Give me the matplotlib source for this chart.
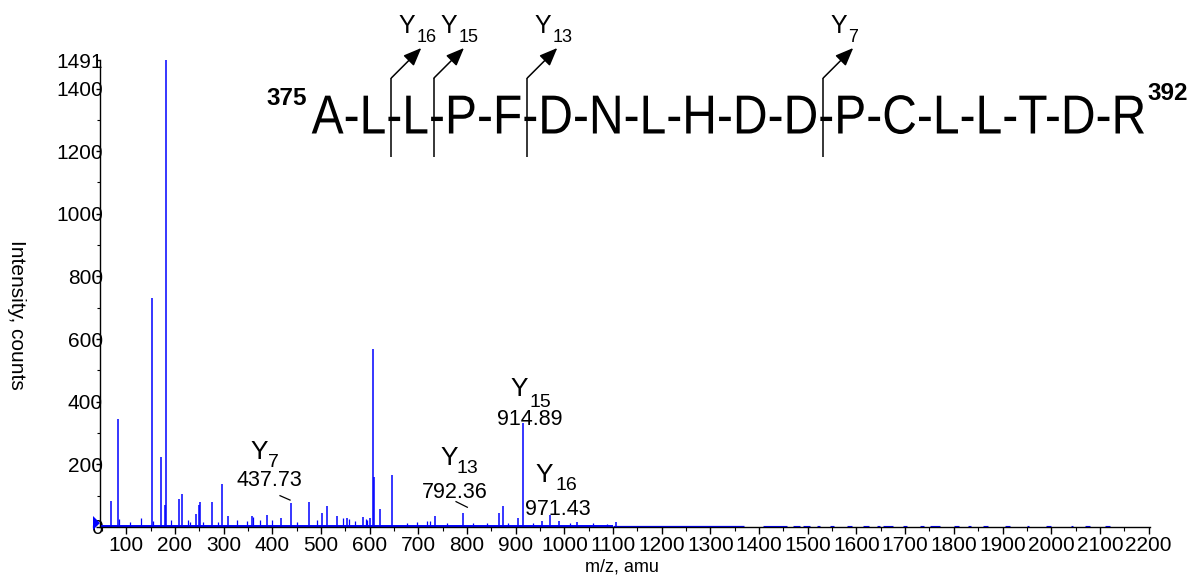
import matplotlib
matplotlib.use("Agg")
import matplotlib.pyplot as plt
from matplotlib.textpath import TextPath
from matplotlib.patches import PathPatch, Polygon
from matplotlib.font_manager import FontProperties
from matplotlib.transforms import Affine2D
from matplotlib.ticker import MultipleLocator

plt.rcParams['font.family'] = ['Liberation Sans', 'DejaVu Sans']

# --- spectrum data ---
peak_mz = [68.0, 83.6, 153.5, 171.3, 180.3, 182.2, 208.3, 214.5, 243.2, 248.8,
           251.5, 276.7, 296.7, 308.4, 358.3, 388.5, 417.3, 437.73, 475.4, 502.8,
           511.8, 533.0, 554.1, 585.8, 600.8, 607.5, 609.0, 620.7, 646.6, 735.0,
           792.36, 865.2, 873.4, 905.5, 914.89, 954.2, 971.43, 989.7, 1025.5, 1106.0]
peak_int = [84, 344, 731, 223, 70, 1491, 88, 104, 41, 69,
            80, 80, 137, 35, 35, 38, 30, 77, 80, 44,
            67, 35, 28, 33, 29, 568, 160, 58, 166, 35,
            44, 44, 67, 29, 331, 20, 38, 20, 16, 15]

small_mz = [85.2, 107.6, 129.6, 155.0, 192.0, 226.0, 231.0, 257.6, 288.0, 326.9,
            347.4, 360.5, 374.7, 398.8, 450.0, 491.2, 546.0, 557.0, 570.0, 592.6,
            595.0, 676.0, 696.7, 717.0, 724.0, 758.0, 813.0, 840.5, 885.0, 936.0,
            1012.0, 1059.6, 1087.0]
small_int = [25, 17, 28, 20, 22, 22, 17, 17, 17, 22,
             20, 33, 22, 22, 17, 22, 28, 24, 20, 24,
             22, 14, 17, 20, 20, 14, 14, 12, 14, 14,
             12, 12, 10]

# noise floor
base_mz = [46, 1100]
base_level = 4
mid_mz = [1100, 1368]
tail_start = [1409, 1470, 1491, 1518, 1546, 1580, 1614, 1642, 1655, 1696, 1731, 1751,
              1800, 1830, 1860, 1905, 1950, 1990, 2040, 2070, 2110]
tail_end = [1457, 1484, 1505, 1525, 1553, 1590, 1625, 1649, 1676, 1704, 1738, 1772,
            1810, 1835, 1870, 1915, 1955, 2000, 2045, 2080, 2120]

# labelled y-ions in the spectrum
ion_sub = ['7', '13', '15', '16']
ion_val = ['437.73', '792.36', '914.89', '971.43']
ylet_mz = [354.2, 744.6, 888.4, 939.8]
ylet_int = [217, 198, 418, 144]
ysub_mz = [391.2, 778.9, 927.5, 980.9]
ysub_int = [192, 172, 383, 118]
num_mz = [394.7, 774.8, 929.5, 987.0]
num_int = [131, 92, 326, 38]
lead_x0 = [415.8, 777.4]
lead_x1 = [436.4, 800.6]
lead_y0 = [100, 81]
lead_y1 = [86, 63]

# peptide
sequence = ['A', 'L', 'L', 'P', 'F', 'D', 'N', 'L', 'H', 'D', 'D',
            'P', 'C', 'L', 'L', 'T', 'D', 'R']
first_res, last_res = '375', '392'
cut_after = [2, 3, 5, 11]

blue = '#0000ff'
W, H = 1203, 579
fig = plt.figure(figsize=(W / 100, H / 100), dpi=100)
ax = fig.add_axes([100 / W, 1 - 527 / H, 1050 / W, 467 / H])

ax.vlines(peak_mz, 0, peak_int, color=blue, lw=1.1)
ax.vlines(small_mz, 0, small_int, color=blue, lw=0.9)
ax.plot(base_mz, [base_level] * len(base_mz), color=blue, lw=1.4,
        solid_capstyle='butt')
ax.plot(mid_mz, [base_level] * len(mid_mz), color=blue, lw=0.9,
        solid_capstyle='butt')
ax.hlines([base_level] * len(tail_start), tail_start, tail_end, color=blue, lw=0.8)

ax.set_xlim(46, 2203)
ax.set_ylim(0, 1491)
for s in ['top', 'right']:
    ax.spines[s].set_visible(False)
for s in ['left', 'bottom']:
    ax.spines[s].set_linewidth(1.0)

ax.set_xticks(range(100, 2201, 100))
ax.xaxis.set_minor_locator(MultipleLocator(50))
ax.set_yticks([0, 200, 400, 600, 800, 1000, 1200, 1400, 1491])
ax.set_yticks(range(100, 1400, 200), minor=True)
ax.tick_params(axis='x', which='major', direction='out', length=5, width=1,
               labelsize=15, pad=1.5)
ax.tick_params(axis='x', which='minor', direction='out', length=3, width=0.8)
ax.tick_params(axis='y', which='major', direction='out', length=3, width=1,
               labelsize=15, pad=-5.2)
ax.tick_params(axis='y', which='minor', direction='out', length=2, width=0.8)

# ion labels on the spectrum
for i in range(len(ion_sub)):
    ax.text(ylet_mz[i], ylet_int[i], 'Y', fontsize=19, va='baseline', ha='left')
    ax.text(ysub_mz[i], ysub_int[i], ion_sub[i], fontsize=14, va='baseline', ha='left')
    ax.text(num_mz[i], num_int[i], ion_val[i], fontsize=15.5, va='baseline',
            ha='center')
for i in range(len(lead_x0)):
    ax.plot([lead_x0[i], lead_x1[i]], [lead_y0[i], lead_y1[i]], color='k', lw=0.9)

fig.text(622 / W, 1 - 567 / H, 'm/z, amu', ha='center', va='center', fontsize=13)
fig.text(16 / W, 1 - 315 / H, 'Intensity, counts', ha='center', va='center',
         rotation=270, fontsize=15)

# overlay in pixel coordinates for the peptide scheme
ov = fig.add_axes([0, 0, 1, 1])
ov.set_xlim(0, W)
ov.set_ylim(H, 0)
ov.axis('off')
ov.patch.set_alpha(0)

ov.add_patch(Polygon([[93, 516], [93, 530], [100, 523]], closed=True,
                     color=blue, lw=0))

fp = FontProperties(family='Liberation Sans')
em = 55
seq_str = '-'.join(sequence)
tp = TextPath((0, 0), seq_str, size=em, prop=fp)
ext = tp.get_extents()
seq_left, seq_right, seq_base = 311.7, 1144.0, 133.5
sx = (seq_right - seq_left) / ext.width
tx = seq_left - ext.x0 * sx
trans = Affine2D().scale(sx, -1).translate(tx, seq_base) + ov.transData
ov.add_patch(PathPatch(tp, transform=trans, facecolor='black', lw=0))

hy = TextPath((0, 0), '-', size=em, prop=fp).get_extents()
for k in cut_after:
    prefix = '-'.join(sequence[:k]) + '-'
    e = TextPath((0, 0), prefix, size=em, prop=fp).get_extents()
    xc = tx + (e.x1 - hy.width / 2) * sx - 3
    ov.plot([xc, xc], [157, 78], color='k', lw=1.1, solid_capstyle='butt')
    ov.annotate('', xy=(xc + 30, 48), xytext=(xc, 78),
                arrowprops=dict(arrowstyle='-|>,head_length=1.1,head_width=0.45',
                                mutation_scale=10, color='k', lw=1.1,
                                shrinkA=0, shrinkB=0))
    ov.text(xc + 7, 33, 'Y', fontsize=18, va='baseline', ha='left')
    ov.text(xc + 25, 42, str(len(sequence) - k), fontsize=13, va='baseline',
            ha='left')

ov.text(266, 105, first_res, fontsize=17.5, weight='bold', va='baseline', ha='left')
ov.text(1147, 100, last_res, fontsize=17.5, weight='bold', va='baseline', ha='left')

fig.savefig('out.png', dpi=100)
